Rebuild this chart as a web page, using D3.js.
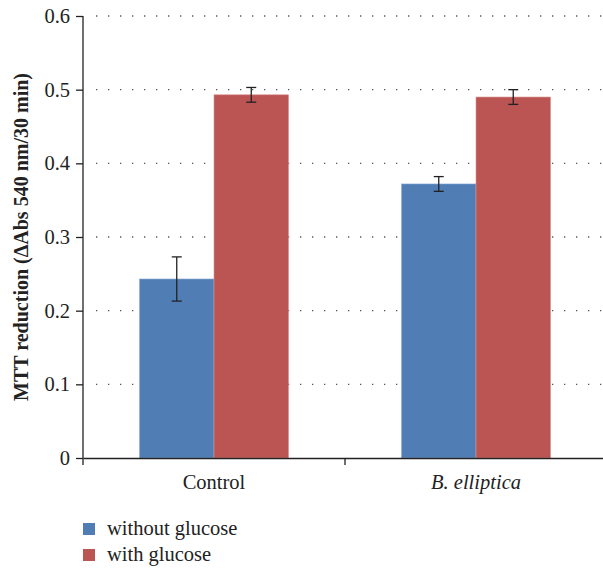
<!DOCTYPE html>
<html>
<head>
<meta charset="utf-8">
<script src="https://cdn.jsdelivr.net/npm/d3@7"></script>
<style>
  body { margin: 0; background: #fff; }
</style>
</head>
<body>
<svg id="chart" width="603" height="569"></svg>
<script>
var categories = ["Control", "B. elliptica"]
var seriesNames = ["without glucose", "with glucose"]
var withoutGlucose = [0.243, 0.372]
var withGlucose = [0.493, 0.490]
var withoutErr = [0.030, 0.010]
var withErr = [0.010, 0.010]
var yTicks = [0, 0.1, 0.2, 0.3, 0.4, 0.5, 0.6]
var colors = ["#4F7DB4", "#BB5553"]

var fontFamily = "'Liberation Serif', 'DejaVu Serif', serif"

var dimensions = {
    width: 603,
    height: 569,
    margin: { top: 16, left: 83, right: -4, bottom: 111 }
}

var svg = d3.select("#chart")

var rows = categories.map((c, i) => ({
    cat: c,
    vals: [
        { s: 0, v: withoutGlucose[i], e: withoutErr[i] },
        { s: 1, v: withGlucose[i], e: withErr[i] }
    ]
}))

var xScale = d3.scaleBand()
               .domain(categories)
               .range([dimensions.margin.left, dimensions.width - dimensions.margin.right])
var innerScale = d3.scaleBand()
               .domain([0, 1])
               .range([56.5, xScale.bandwidth() - 56.5])
var yScale = d3.scaleLinear()
               .domain([0, 0.6])
               .range([dimensions.height - dimensions.margin.bottom, dimensions.margin.top])

// dotted gridlines
svg.append("g")
   .selectAll("line")
   .data(yTicks.filter(t => t > 0))
   .enter()
   .append("line")
   .attr("x1", dimensions.margin.left + 13)
   .attr("x2", dimensions.width)
   .attr("y1", d => yScale(d))
   .attr("y2", d => yScale(d))
   .attr("stroke", "#555")
   .attr("stroke-width", 1.3)
   .attr("stroke-dasharray", "1.3,10.7")

// bars
var groups = svg.append("g")
   .selectAll("g")
   .data(rows)
   .enter()
   .append("g")
   .attr("transform", d => `translate(${xScale(d.cat)},0)`)

groups.selectAll("rect")
   .data(d => d.vals)
   .enter()
   .append("rect")
   .attr("x", d => innerScale(d.s))
   .attr("width", innerScale.bandwidth())
   .attr("y", d => yScale(d.v))
   .attr("height", d => yScale(0) - yScale(d.v))
   .attr("fill", d => colors[d.s])
   .attr("stroke", d => d.s == 0 ? "#8FAED6" : "#D88F8E")
   .attr("stroke-width", 0.6)

// error bars
var err = groups.selectAll(".err")
   .data(d => d.vals)
   .enter()
   .append("g")
   .attr("class", "err")
   .attr("stroke", "#222")
   .attr("stroke-width", 1.3)
err.append("line")
   .attr("x1", d => innerScale(d.s) + innerScale.bandwidth() / 2)
   .attr("x2", d => innerScale(d.s) + innerScale.bandwidth() / 2)
   .attr("y1", d => yScale(d.v + d.e))
   .attr("y2", d => yScale(d.v - d.e))
err.selectAll(".cap")
   .data(d => [d.v + d.e, d.v - d.e].map(y => ({ s: d.s, y: y })))
   .enter()
   .append("line")
   .attr("x1", d => innerScale(d.s) + innerScale.bandwidth() / 2 - 5)
   .attr("x2", d => innerScale(d.s) + innerScale.bandwidth() / 2 + 5)
   .attr("y1", d => yScale(d.y))
   .attr("y2", d => yScale(d.y))

// y axis
var yAxisGen = d3.axisLeft(yScale)
                 .tickValues(yTicks)
                 .tickFormat(d => d === 0 ? "0" : d3.format(".1f")(d))
                 .tickSize(7)
                 .tickPadding(6)
var yAxis = svg.append("g")
               .attr("transform", `translate(${dimensions.margin.left},0)`)
               .call(yAxisGen)
yAxis.select(".domain").remove()
yAxis.append("line")
     .attr("y1", yScale(0.6))
     .attr("y2", yScale(0) + 7)
     .attr("stroke", "#222")
     .attr("stroke-width", 1.3)
yAxis.selectAll(".tick line").attr("stroke", "#222").attr("stroke-width", 1.3)

// x axis
var xAxisGen = d3.axisBottom(xScale).tickSize(0).tickPadding(16)
var xAxis = svg.append("g")
               .attr("transform", `translate(0,${yScale(0)})`)
               .call(xAxisGen)
xAxis.select(".domain").attr("stroke", "#222").attr("stroke-width", 1.3)
xAxis.selectAll("text")
     .style("font-style", d => d === "Control" ? "normal" : "italic")
xAxis.append("line")
     .attr("x1", xScale(categories[1]))
     .attr("x2", xScale(categories[1]))
     .attr("y1", 0)
     .attr("y2", 7)
     .attr("stroke", "#222")
     .attr("stroke-width", 1.3)

// y title
svg.append("text")
   .attr("class", "ytitle")
   .attr("transform", `translate(28,${(yScale(0) + yScale(0.6)) / 2}) rotate(-90)`)
   .attr("text-anchor", "middle")
   .style("font-weight", "bold")
   .text("MTT reduction (\u0394Abs 540 nm/30 min)")

// legend
var legend = svg.append("g")
   .selectAll("g")
   .data(seriesNames)
   .enter()
   .append("g")
   .attr("transform", (d, i) => `translate(83,${523 + i * 26})`)
legend.append("rect")
   .attr("width", 12)
   .attr("height", 12)
   .attr("fill", (d, i) => colors[i])
legend.append("text")
   .attr("x", 24)
   .attr("y", 12)
   .text(d => d)

// one font for every label
svg.selectAll("text")
   .style("font-family", fontFamily)
   .style("font-size", "20.5px")
   .attr("fill", "#222")
svg.select(".ytitle").style("font-size", "20px")
</script>
</body>
</html>
